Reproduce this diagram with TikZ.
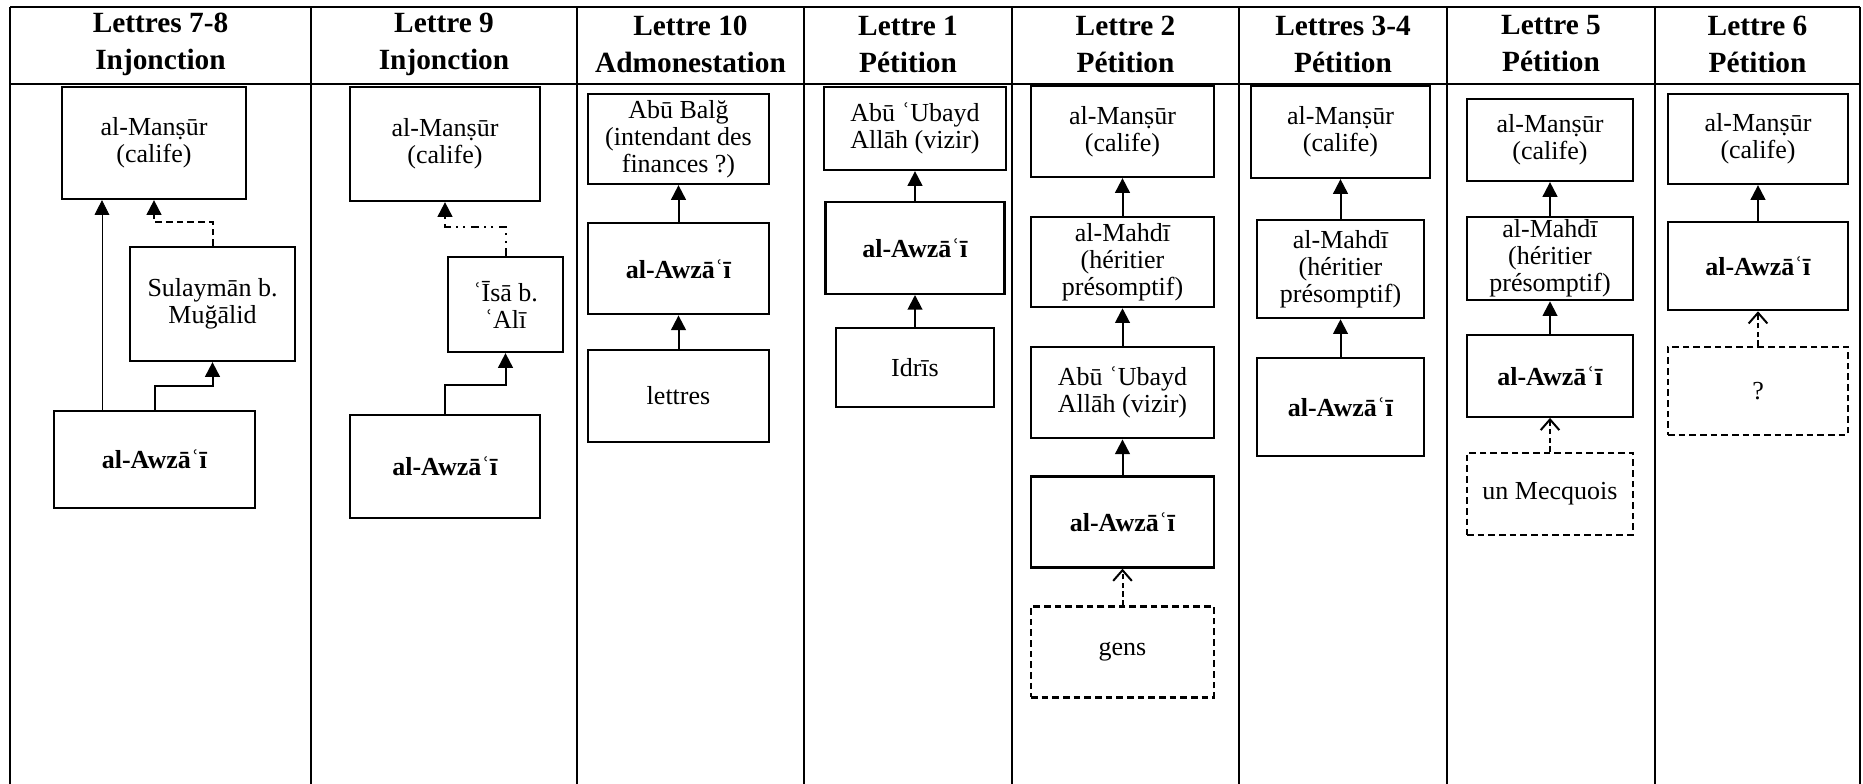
\documentclass[tikz,border=0pt]{standalone}
\usepackage{fontspec}
\setmainfont{Liberation Serif}
\usetikzlibrary{positioning}
\usetikzlibrary{arrows.meta}

\newcommand{\bodysize}{\rmfamily\mdseries\fontsize{19.5}{20.25}\selectfont}
\newcommand{\headsize}{\rmfamily\bfseries\fontsize{22}{27.75}\selectfont}

\begin{document}
\begin{tikzpicture}
				[x=0.75pt,y=-0.75pt,
					pers/.style={draw,line width=1.7pt,inner sep=0pt,align=center,font=\bodysize},
					guessbox/.style={pers,dash pattern=on 5pt off 3pt},
					head/.style={align=center,font=\headsize},
					rule/.style={line width=1.1pt},
					arr/.style={line width=1.5pt,-{Triangle[width=11pt,length=11pt]}},
					thinarr/.style={line width=0.6pt,-{Triangle[width=11pt,length=11pt]}},
					dasharr/.style={arr,dash pattern=on 5pt off 3pt},
					dotarr/.style={arr,dash pattern=on 6pt off 4pt on 1.5pt off 4pt on 1.5pt off 4pt},
					openarr/.style={line width=1.5pt,dash pattern=on 4pt off 2.5pt,-{Straight Barb[width=14pt,length=8pt]}}]
				\useasboundingbox (0,0) rectangle (1863,784);

				% table
				\draw [rule] (10,7) -- (1860,7) (10,84) -- (1860,84)
				  (10,7) -- (10,784) (311,7) -- (311,784) (577,7) -- (577,784)
				  (804,7) -- (804,784) (1012,7) -- (1012,784) (1239,7) -- (1239,784)
				  (1447,7) -- (1447,784) (1655,7) -- (1655,784) (1860,7) -- (1860,784);
				\node (h1) [head] at (160.5,44) {Lettres 7-8\\Injonction};
				\node (h2) [head] at (444,44) {Lettre 9\\Injonction};
				\node (h3) [head] at (690.5,44) {Lettre 10\\Admonestation};
				\node (h4) [head] at (908,44) {Lettre 1\\Pétition};
				\node (h5) [head] at (1125.5,44) {Lettre 2\\Pétition};
				\node (h6) [head] at (1343,44) {Lettres 3-4\\Pétition};
				\node (h7) [head] at (1551,44) {Lettre 5\\Pétition};
				\node (h8) [head] at (1757.5,44) {Lettre 6\\Pétition};

				% lettres 7-8
				\node (c1) [pers,minimum width=138pt,minimum height=84pt] at (154,143) {al-Manṣūr\\(calife)};
				\node (s1) [pers,minimum width=123.75pt,minimum height=85.5pt] at (212.5,304) {Sulaymān b.\\Muğālid};
				\node (w1) [pers,minimum width=150.75pt,minimum height=72.75pt] at (154.5,459.5) {\textbf{al-Awzāʿī}};
				\draw [arr] (w1.north) -- ++(0,-24) -| (s1.south);
				\draw [dasharr] (s1.north) -- ++(0,-24) -| (c1.south);
				\draw [thinarr] ([xshift=-39.4pt]w1.north) coordinate (t1) -- (t1 |- c1.south);

				% lettre 9
				\node (c2) [pers,minimum width=142.5pt,minimum height=85.5pt] at (445,144) {al-Manṣūr\\(calife)};
				\node (i2) [pers,minimum width=86.25pt,minimum height=71.25pt] at (505.5,304.5) {ʿĪsā b.\\ʿAlī};
				\node (w2) [pers,minimum width=142.5pt,minimum height=77.25pt] at (445,466.5) {\textbf{al-Awzāʿī}};
				\draw [arr] (w2.north) -- ++(0,-29) -| (i2.south);
				\draw [dotarr] (i2.north) -- ++(0,-29) -| (c2.south);

				% lettre 10
				\node (b3) [pers,minimum width=135.75pt,minimum height=67.5pt] at (678.5,139) {Abū Balğ\\(intendant des\\finances ?)};
				\node (w3) [pers,minimum width=135.75pt,minimum height=68.25pt,below=27.75pt of b3] {\textbf{al-Awzāʿī}}
				  edge [arr] (b3);
				\node (l3) [pers,minimum width=135.75pt,minimum height=69pt,below=24.9pt of w3] {lettres}
				  edge [arr] (w3);

				% lettre 1
				\node (u4) [pers,minimum width=136.5pt,minimum height=62.25pt] at (915,128.5) {Abū ʿUbayd\\Allāh (vizir)};
				\node (w4) [pers,minimum width=134.25pt,minimum height=69pt,below=22.2pt of u4] {\textbf{al-Awzāʿī}}
				  edge [arr] (u4);
				\node (d4) [pers,minimum width=118.5pt,minimum height=59.25pt,below=23.9pt of w4] {Idrīs}
				  edge [arr] (w4);

				% lettre 2
				\node (c5) [pers,minimum width=137.25pt,minimum height=68.25pt] at (1122.5,131.5) {al-Manṣūr\\(calife)};
				\node (m5) [pers,minimum width=137.25pt,minimum height=67.5pt,below=28.4pt of c5] {al-Mahdī\\(héritier\\présomptif)}
				  edge [arr] (c5);
				\node (u5) [pers,minimum width=137.25pt,minimum height=68.25pt,below=28.4pt of m5] {Abū ʿUbayd\\Allāh (vizir)}
				  edge [arr] (m5);
				\node (w5) [pers,minimum width=137.25pt,minimum height=68.25pt,below=27pt of u5] {\textbf{al-Awzāʿī}}
				  edge [arr] (u5);
				\node (g5) [guessbox,minimum width=137.25pt,minimum height=68.25pt,below=27.5pt of w5] {gens}
				  edge [openarr] (w5);

				% lettres 3-4
				\node (c6) [pers,minimum width=134.25pt,minimum height=69pt] at (1340.5,132) {al-Manṣūr\\(calife)};
				\node (m6) [pers,minimum width=125.25pt,minimum height=73.5pt,below=29.9pt of c6] {al-Mahdī\\(héritier\\présomptif)}
				  edge [arr] (c6);
				\node (w6) [pers,minimum width=125.25pt,minimum height=73.5pt,below=28.4pt of m6] {\textbf{al-Awzāʿī}}
				  edge [arr] (m6);

				% lettre 5
				\node (c7) [pers,minimum width=124.5pt,minimum height=61.5pt] at (1550,140) {al-Manṣūr\\(calife)};
				\node (m7) [pers,minimum width=124.5pt,minimum height=62.25pt,below=25.4pt of c7] {al-Mahdī\\(héritier\\présomptif)}
				  edge [arr] (c7);
				\node (w7) [pers,minimum width=124.5pt,minimum height=61.5pt,below=24.3pt of m7] {\textbf{al-Awzāʿī}}
				  edge [arr] (m7);
				\node (q7) [guessbox,minimum width=124.5pt,minimum height=61.5pt,below=25.2pt of w7] {un Mecquois}
				  edge [openarr] (w7);

				% lettre 6
				\node (c8) [pers,minimum width=135pt,minimum height=67.5pt] at (1758,139) {al-Manṣūr\\(calife)};
				\node (w8) [pers,minimum width=135pt,minimum height=66pt,below=26.9pt of c8] {\textbf{al-Awzāʿī}}
				  edge [arr] (c8);
				\node (q8) [guessbox,minimum width=135pt,minimum height=66pt,below=25.8pt of w8] {?}
				  edge [openarr] (w8);
\end{tikzpicture}
\end{document}
